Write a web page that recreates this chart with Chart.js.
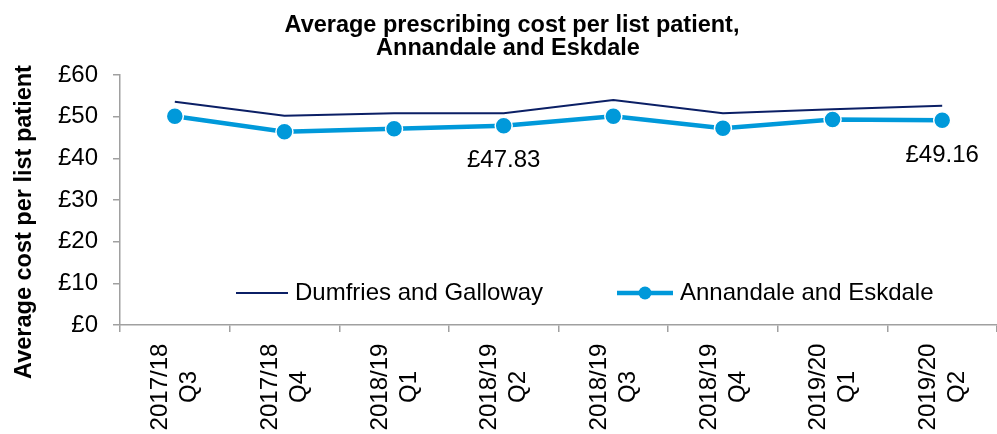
<!DOCTYPE html>
<html><head><meta charset="utf-8">
<script src="https://cdn.jsdelivr.net/npm/chart.js@4"></script>
<style>html,body{margin:0;padding:0;background:#fff}#wrap{width:997px;height:434px}</style>
</head><body><div id="wrap"><canvas id="c" width="997" height="434"></canvas></div>
<script>
const categories = [["2017/18","Q3"],["2017/18","Q4"],["2018/19","Q1"],["2018/19","Q2"],["2018/19","Q3"],["2018/19","Q4"],["2019/20","Q1"],["2019/20","Q2"]];
const dumfries = [53.6, 50.2, 50.8, 50.8, 54.0, 50.8, 51.8, 52.6];
const annandale = [50.1, 46.4, 47.1, 47.83, 50.1, 47.2, 49.3, 49.16];
const labelledPoints = [3, 7];
const seriesNames = ["Dumfries and Galloway", "Annandale and Eskdale"];
const titleLines = ["Average prescribing cost per list patient,", "Annandale and Eskdale"];
const yTitle = "Average cost per list patient";

const NAVY = '#0B1F65', BLUE = '#0099DA', GREY = '#A0A0A0';
const FONT = '"Liberation Sans", Arial, sans-serif';

const customDraw = {
  id: 'customDraw',
  afterDraw(chart) {
    const ctx = chart.ctx;
    const xs = chart.scales.x;
    ctx.save();
    ctx.fillStyle = '#000';
    // title
    ctx.font = 'bold 23.5px ' + FONT;
    ctx.textAlign = 'center'; ctx.textBaseline = 'middle';
    ctx.fillText(titleLines[0], 512, 26);
    ctx.fillText(titleLines[1], 508, 49);
    // y title
    ctx.save();
    ctx.translate(25, 222); ctx.rotate(-Math.PI / 2);
    ctx.font = 'bold 23.5px ' + FONT;
    ctx.fillText(yTitle, 0, 0);
    ctx.restore();
    // x labels
    ctx.font = '24px ' + FONT;
    categories.forEach((lab, i) => {
      const x = xs.getPixelForValue(i);
      ctx.save();
      ctx.translate(x, 387); ctx.rotate(-Math.PI / 2);
      ctx.textAlign = 'center'; ctx.textBaseline = 'middle';
      ctx.fillText(lab[0], 0, -14);
      ctx.fillText(lab[1], 0, 15);
      ctx.restore();
    });
    // data labels
    const meta = chart.getDatasetMeta(1);
    ctx.font = '24px ' + FONT;
    ctx.textAlign = 'center'; ctx.textBaseline = 'middle';
    labelledPoints.forEach(i => {
      const p = meta.data[i];
      ctx.fillText('£' + annandale[i].toFixed(2), p.x, p.y + 35);
    });
    // legend
    const ly = 293;
    ctx.strokeStyle = NAVY; ctx.lineWidth = 2;
    ctx.beginPath(); ctx.moveTo(236, ly); ctx.lineTo(288, ly); ctx.stroke();
    ctx.textAlign = 'left';
    ctx.fillText(seriesNames[0], 295, ly);
    ctx.strokeStyle = BLUE; ctx.lineWidth = 4.5;
    ctx.beginPath(); ctx.moveTo(617, ly); ctx.lineTo(673, ly); ctx.stroke();
    ctx.fillStyle = BLUE;
    ctx.beginPath(); ctx.arc(645, ly, 6.5, 0, Math.PI * 2); ctx.fill();
    ctx.fillStyle = '#000';
    ctx.fillText(seriesNames[1], 680, ly);
    ctx.restore();
  }
};

new Chart(document.getElementById('c'), {
  type: 'line',
  data: {
    labels: categories,
    datasets: [
      { label: seriesNames[0], data: dumfries, borderColor: NAVY, borderWidth: 2, pointRadius: 0, tension: 0, fill: false },
      { label: seriesNames[1], data: annandale, borderColor: BLUE, backgroundColor: BLUE, borderWidth: 4.5,
        pointRadius: 8.5, pointBackgroundColor: BLUE, pointBorderColor: '#fff', pointBorderWidth: 1.5, tension: 0, fill: false }
    ]
  },
  options: {
    responsive: false, animation: false,
    layout: { autoPadding: false, padding: { top: 75, right: -3, bottom: 0, left: 0 } },
    plugins: { legend: { display: false }, title: { display: false }, tooltip: { enabled: false } },
    scales: {
      x: {
        type: 'category', offset: true,
        grid: { offset: true, drawOnChartArea: false, drawTicks: true, tickLength: 7, color: GREY, lineWidth: 1.5 },
        border: { color: GREY, width: 1.5 },
        ticks: { display: false },
        afterFit(s) { s.height = 109; }
      },
      y: {
        min: 0, max: 60,
        ticks: { stepSize: 10, color: '#000', font: { size: 24, family: FONT }, padding: 15,
                 callback: v => '£' + v },
        grid: { drawOnChartArea: false, drawTicks: true, tickLength: 7, color: GREY, lineWidth: 1.5 },
        border: { color: GREY, width: 1.5 },
        afterFit(s) { s.width = 120; }
      }
    }
  },
  plugins: [customDraw]
});
</script></body></html>
